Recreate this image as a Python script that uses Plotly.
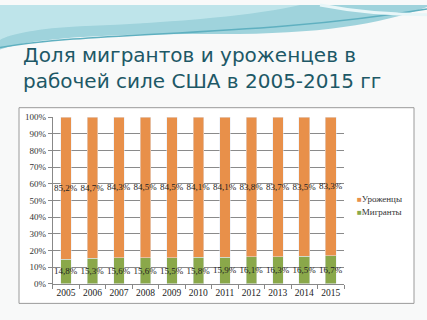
import plotly.graph_objects as go

years = ["2005", "2006", "2007", "2008", "2009", "2010", "2011", "2012", "2013", "2014", "2015"]
migrants = [14.8, 15.3, 15.6, 15.6, 15.5, 15.8, 15.9, 16.1, 16.3, 16.5, 16.7]
natives = [85.2, 84.7, 84.3, 84.5, 84.5, 84.1, 84.1, 83.8, 83.7, 83.5, 83.3]
series_names = ["Уроженцы", "Мигранты"]
y_ticks = [0, 10, 20, 30, 40, 50, 60, 70, 80, 90, 100]
y_tick_labels = [f"{v}%" for v in y_ticks]

W, H = 427, 320
def px(x): return x / W
def py(y): return 1 - y / H

def fmt(v):
    return f"{v:.1f}%".replace(".", ",")

serif = "Liberation Serif, Times New Roman, serif"
GREEN, ORANGE = "#8aa84a", "#e8904a"

fig = go.Figure()
fig.add_trace(go.Bar(
    x=years, y=migrants, name=series_names[1], marker_color=GREEN, showlegend=False,
    text=[fmt(v) for v in migrants], textposition="inside", insidetextanchor="middle",
    textangle=0, constraintext="none", textfont=dict(family=serif, size=9, color="#222"),
    width=0.4,
))
fig.add_trace(go.Bar(
    x=years, y=natives, name=series_names[0], marker_color=ORANGE, showlegend=False,
    text=[fmt(v) for v in natives], textposition="inside", insidetextanchor="middle",
    textangle=0, constraintext="none", textfont=dict(family=serif, size=9, color="#222"),
    width=0.4,
))

shapes = []
shapes.append(dict(type="path", xref="paper", yref="paper", layer="below",
    path=f"M 0 1 L 1 1 L 1 {py(2)} C {px(380)} {py(20)} {px(320)} {py(30)} {px(220)} {py(30)} "
         f"C {px(120)} {py(30)} {px(40)} {py(32)} 0 {py(46)} Z",
    fillcolor="#9fd3dc", line=dict(width=0)))
shapes.append(dict(type="path", xref="paper", yref="paper", layer="below",
    path=f"M 0 1 L {px(300)} 1 C {px(260)} {py(10)} {px(180)} {py(18)} {px(80)} {py(22)} "
         f"C {px(40)} {py(24)} {px(10)} {py(30)} 0 {py(36)} Z",
    fillcolor="#c6e8ee", line=dict(width=0), opacity=0.8))
shapes.append(dict(type="path", xref="paper", yref="paper", layer="below",
    path=f"M {px(0)} {py(44)} C {px(100)} {py(26)} {px(250)} {py(34)} {px(427)} {py(4)}",
    line=dict(color="#5fb0c0", width=1.5)))
shapes.append(dict(type="path", xref="paper", yref="paper", layer="below",
    path=f"M {px(320)} {py(0)} C {px(360)} {py(8)} {px(400)} {py(10)} {px(427)} {py(10)}",
    line=dict(color="#e8f6f8", width=3)))
shapes.append(dict(type="rect", xref="paper", yref="paper", layer="below",
    x0=px(19), x1=px(414), y0=py(308), y1=py(106),
    fillcolor="white", line=dict(color="#9a9a9a", width=1)))

annotations = [dict(
    xref="paper", yref="paper", x=px(21), y=py(37), xanchor="left", yanchor="top",
    text="Доля мигрантов и уроженцев в<br>рабочей силе США в 2005-2015 гг",
    showarrow=False, align="left",
    font=dict(family="DejaVu Sans", size=20, color="#1d5866"))]
for name, col, ypix in [(series_names[0], ORANGE, 200), (series_names[1], GREEN, 214)]:
    annotations.append(dict(
        xref="paper", yref="paper", x=px(355), y=py(ypix), xanchor="left", yanchor="middle",
        text=f'<span style="color:{col}; font-size:8px">■</span>{name}',
        showarrow=False, font=dict(family=serif, size=9, color="#333")))

fig.update_layout(
    width=W, height=H, margin=dict(l=0, r=0, t=0, b=0),
    paper_bgcolor="#f8f9f9", plot_bgcolor="rgba(0,0,0,0)",
    barmode="stack", barnorm="percent", bargap=0.6,
    shapes=shapes, annotations=annotations,
    showlegend=False,
    xaxis=dict(domain=[px(52.7), px(344)], showline=True, linecolor="#888", linewidth=1,
               ticks="outside", tickson="boundaries", ticklen=4, tickcolor="#888",
               tickangle=0,
               tickfont=dict(family=serif, size=9.5, color="#222"), showgrid=False),
    yaxis=dict(domain=[py(287.7), py(115.7)], range=[0, 100], tickvals=y_ticks,
               ticktext=y_tick_labels, showline=True, linecolor="#888", linewidth=1,
               ticks="outside", ticklen=4, tickcolor="#888",
               gridcolor="#8a8a8a", gridwidth=1, zeroline=False,
               tickfont=dict(family=serif, size=9, color="#333")),
)

fig.write_html("out.html")
